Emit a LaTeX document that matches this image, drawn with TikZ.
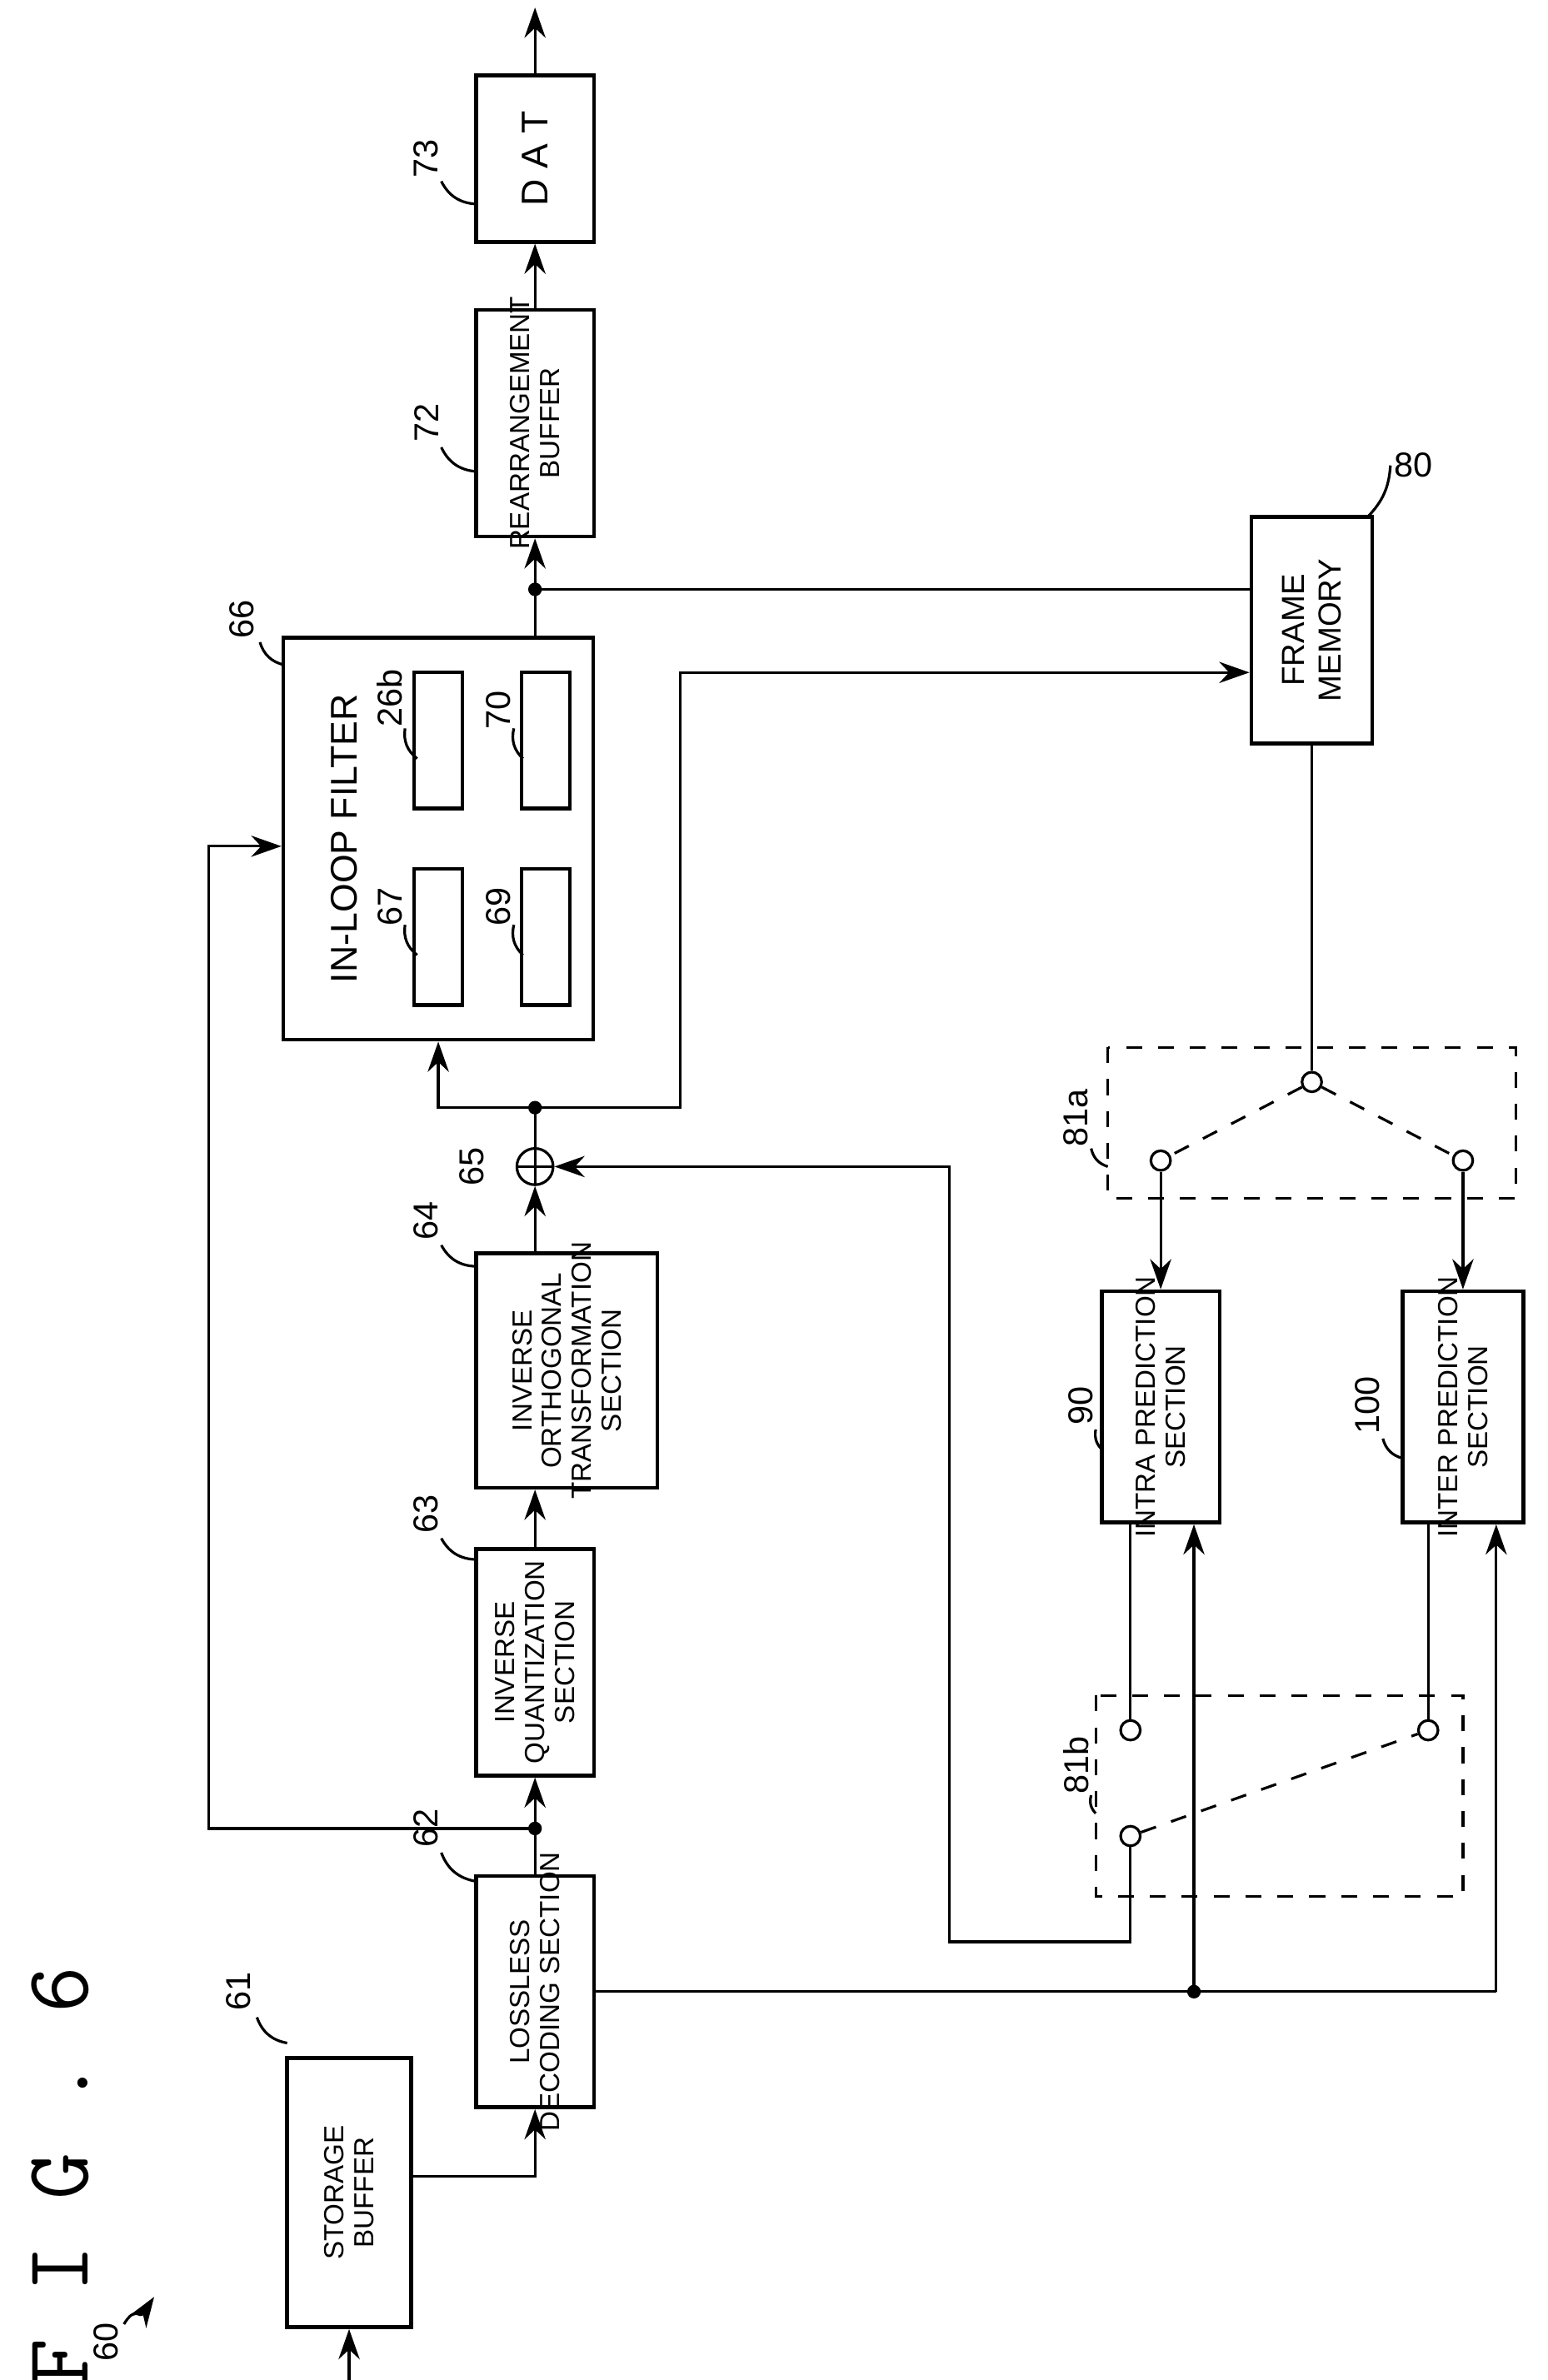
\documentclass[tikz,border=0pt]{standalone}
\usepackage{fontspec}
\setmainfont{Liberation Sans}
\usetikzlibrary{arrows.meta, positioning, calc}
\begin{document}
\begin{tikzpicture}[x=0.01cm, y=-0.01cm,
    line width=0.5pt, >={Stealth[length=2mm,width=1.4mm]},
    box/.style={draw, line width=0.7pt, inner sep=0pt},
    lbl/.style={rotate=90, align=center, font=\fontsize{5.2}{5.6}\selectfont, inner sep=0pt},
    num/.style={rotate=90, font=\fontsize{6.5}{7}\selectfont, inner sep=0pt},
    sw/.style={circle, draw, minimum size=0.13cm, inner sep=0pt, fill=white},
    dot/.style={circle, fill, minimum size=0.09cm, inner sep=0pt},
    dbox/.style={dashed, line width=0.5pt}
]
\useasboundingbox (0,0) rectangle (1024,1575);

% Title
\node[rotate=90, font=\fontsize{17}{17}\ttfamily] (fig) at (40,1440) {F I G . 6};
\node[num] (n60) at (70,1550) {60};
\draw[->] (82,1538) .. controls (90,1525) and (92,1535) .. (102,1520);

% Boxes
\node[box, minimum width=0.82cm, minimum height=1.78cm] (b61) at (231,1451) {};
\node[lbl] at (b61) {STORAGE\\BUFFER};
\node[box, minimum width=0.78cm, minimum height=1.53cm] (b62) at (354,1318) {};
\node[lbl] at (b62) {LOSSLESS\\DECODING SECTION};
\node[box, minimum width=0.78cm, minimum height=1.50cm] (b63) at (354,1100) {};
\node[lbl] at (b63) {INVERSE\\QUANTIZATION\\SECTION};
\node[box, minimum width=1.20cm, minimum height=1.55cm] (b64) at (375,907) {};
\node[lbl] at (b64) {INVERSE\\ORTHOGONAL\\TRANSFORMATION\\SECTION};
\node[box, minimum width=2.05cm, minimum height=2.66cm] (b66) at (290,555) {};
\node[lbl, font=\fontsize{7}{8}\selectfont] at (228,555) {IN-LOOP FILTER};
\node[box, minimum width=0.32cm, minimum height=0.90cm] (b67) at (290,620) {};
\node[box, minimum width=0.32cm, minimum height=0.90cm] (b69) at (361,620) {};
\node[box, minimum width=0.32cm, minimum height=0.90cm] (b26b) at (290,490) {};
\node[box, minimum width=0.32cm, minimum height=0.90cm] (b70) at (361,490) {};
\node[box, minimum width=0.78cm, minimum height=1.50cm] (b72) at (354,280) {};
\node[lbl] at (b72) {REARRANGEMENT\\BUFFER};
\node[box, minimum width=0.78cm, minimum height=1.10cm] (b73) at (354,105) {};
\node[lbl, font=\fontsize{7}{8}\selectfont] at (b73) {D A T};
\node[box, minimum width=0.80cm, minimum height=1.50cm] (b80) at (868,417) {};
\node[lbl, font=\fontsize{6}{7}\selectfont] at (b80) {FRAME\\MEMORY};
\node[box, minimum width=0.78cm, minimum height=1.53cm] (b90) at (768,931) {};
\node[lbl] at (b90) {INTRA PREDICTION\\SECTION};
\node[box, minimum width=0.80cm, minimum height=1.53cm] (b100) at (968,931) {};
\node[lbl] at (b100) {INTER PREDICTION\\SECTION};

% Adder
\node[circle, draw, minimum size=0.24cm, inner sep=0pt,
  path picture={\draw (path picture bounding box.north) -- (path picture bounding box.south)
  (path picture bounding box.west) -- (path picture bounding box.east);}] (s65) at (354,772) {};

% Switches
\draw[dbox] (733,693) rectangle (1003,793);
\node[sw] (p1) at (868,716) {};
\node[sw] (p2) at (768,768) {};
\node[sw] (p3) at (968,768) {};
\draw[dbox] (p1) -- (p2);
\draw[dbox] (p1) -- (p3);
\draw[dbox] (725,1122) rectangle (968,1255);
\node[sw] (q1) at (748,1145) {};
\node[sw] (q2) at (945,1145) {};
\node[sw] (q3) at (748,1215) {};
\draw[dbox] (q3) -- (q2);

% Coordinates
\coordinate (in) at (231,1575);
\coordinate (out) at (354,5);
\coordinate (d1) at (354,1210);
\coordinate (d2) at (354,733);
\coordinate (d3) at (354,390);
\coordinate (d4) at (790,1318);
\coordinate (e1) at (990,1318);
\coordinate (fb) at (138,560);
\coordinate (fm) at (450,445);
\coordinate (ret) at (628,1285);
\coordinate (sb) at (354,1440);

% Connectors
\draw[->] (in) -- (b61.south);
\draw[->] (b61.east |- sb) -- (sb) -- (b62.south);
\draw[->] (b62) -- (b63);
\draw[->] (d1) -| (fb) -- (fb -| b66.west);
\draw[->] (b63) -- (b64.south -| b63);
\draw[->] (b64.north -| b63) -- (s65);
\draw[->] (s65.north) -- (d2) -| (b66.south);
\draw[->] (d2) -| (fm) -- (fm -| b80.west);
\draw[->] (b66.north -| b72) -- (b72);
\draw (d3) -- (d3 -| b80.west);
\draw[->] (b72) -- (b73);
\draw[->] (b73) -- (out);
\draw (b80) -- (p1);
\draw[->] (p2) -- (b90.north -| p2);
\draw[->] (p3) -- (b100.north -| p3);
\draw (b90.south -| q1) -- (q1);
\draw (b100.south -| q2) -- (q2);
\draw[->] (q3) |- (ret) |- (s65.east);
\draw (b62.east |- e1) -- (e1);
\draw[->] (d4) -- (d4 |- b90.south);
\draw[->] (e1) -- (e1 |- b100.south);
\node[dot] at (d1) {};
\node[dot] at (d2) {};
\node[dot] at (d3) {};
\node[dot] at (d4) {};

% Reference numbers
\node[num] (n61) at (158,1318) {61};
\draw (170,1335) to[bend right=30] (190,1352);
\node[num] (n62) at (282,1210) {62};
\draw (292,1226) to[bend right=30] (315,1245);
\node[num] (n63) at (282,1002) {63};
\draw (292,1018) to[bend right=30] (315,1032);
\node[num] (n64) at (282,808) {64};
\draw (292,824) to[bend right=30] (315,838);
\node[num] (n65) at (312,772) {65};
\node[num] (n66) at (160,410) {66};
\draw (172,425) to[bend right=30] (188,440);
\node[num] (n67) at (258,600) {67};
\draw (268,612) to[bend right=30] (276,632);
\node[num] (n69) at (330,600) {69};
\draw (340,612) to[bend right=30] (346,632);
\node[num] (n26b) at (258,462) {26b};
\draw (268,482) to[bend right=30] (276,502);
\node[num] (n70) at (330,470) {70};
\draw (340,482) to[bend right=30] (346,502);
\node[num] (n72) at (282,280) {72};
\draw (292,296) to[bend right=30] (315,312);
\node[num] (n73) at (282,105) {73};
\draw (292,120) to[bend right=30] (315,135);
\node[font=\fontsize{6.5}{7}\selectfont] (n80) at (935,308) {80};
\draw (920,308) to[bend left=20] (905,342);
\node[num] (n90) at (715,930) {90};
\draw (725,946) to[bend right=30] (730,960);
\node[num] (n100) at (905,930) {100};
\draw (915,952) to[bend right=30] (928,965);
\node[num] (n81a) at (712,740) {81a};
\draw (722,760) to[bend right=30] (733,772);
\node[num] (n81b) at (712,1168) {81b};
\draw (722,1188) to[bend right=30] (725,1200);
\end{tikzpicture}
\end{document}
